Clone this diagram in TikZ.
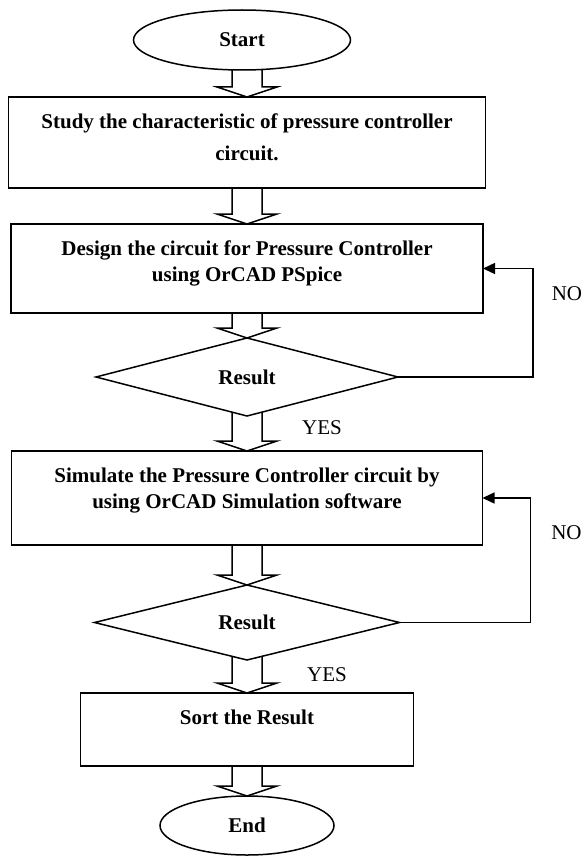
\documentclass[tikz,border=0pt]{standalone}
\usepackage{fontspec}
\setmainfont{Liberation Serif}
\usetikzlibrary{positioning, calc, shapes.geometric, arrows.meta}
\newcommand{\chartfont}{\fontsize{21}{26}\selectfont}
% hollow block arrow from the bottom of #2 to the top of #3
\newcommand{\flowto}[3][0pt]{%
  \draw[hollow] let \p1=(#2.south), \p2=(#3.north) in
    (\x2-15pt,\y1+#1) -- (\x2-15pt,\y2+10pt) -- (\x2-30pt,\y2+10pt) -- (\p2)
    -- (\x2+30pt,\y2+10pt) -- (\x2+15pt,\y2+10pt) -- (\x2+15pt,\y1+#1);}
\tikzset{
  terminal/.style={draw, ellipse, minimum width=217pt, minimum height=60pt,
    inner sep=0pt, outer sep=0pt, font=\chartfont\bfseries},
  process/.style={draw, rectangle, minimum width=472pt, minimum height=89pt,
    inner sep=0pt, outer sep=0pt},
  decision/.style={draw, diamond, minimum width=302pt, minimum height=78pt,
    inner sep=0pt, outer sep=0pt, font=\chartfont\bfseries},
  boxtext/.style={align=center, inner sep=0pt, font=\chartfont\bfseries},
  answer/.style={inner sep=0pt, font=\chartfont},
  hollow/.style={line join=miter},
  loopline/.style={-{Triangle[length=12pt,width=11pt]}},
}
\begin{document}
\begin{tikzpicture}[x=1pt, y=-1pt, line width=1.5pt]
  \useasboundingbox (0,0) rectangle (587,856);

  \node[terminal] (start) at (242,40) {Start};
  \node[process, minimum width=477pt, minimum height=91pt, below=27pt of start, xshift=5pt] (study) {};
  \node[boxtext, below=16pt of study.north] (studytext)
    {Study the characteristic of pressure controller\\[6pt]circuit.};
  \node[process, below=36pt of study] (design) {};
  \node[boxtext, below=16pt of design.north] (designtext)
    {Design the circuit for Pressure Controller\\using OrCAD PSpice};
  \node[decision, below=25pt of design] (check1) {Result};
  \node[process, minimum width=471pt, minimum height=94pt, below=35pt of check1] (simulate) {};
  \node[boxtext, below=16pt of simulate.north] (simulatetext)
    {Simulate the Pressure Controller circuit by\\using OrCAD Simulation software};
  \node[decision, minimum width=305pt, minimum height=75pt, below=40pt of simulate] (check2) {Result};
  \node[process, minimum width=333pt, minimum height=73pt, below=33pt of check2] (sort) {};
  \node[boxtext, below=16pt of sort.north] (sorttext) {Sort the Result};
  \node[terminal, minimum width=174pt, minimum height=59pt, below=30pt of sort] (finish) {End};

  \flowto{start}{study}
  \flowto{study}{design}
  \flowto{design}{check1}
  \flowto[4pt]{check1}{simulate}
  \flowto{simulate}{check2}
  \flowto[4pt]{check2}{sort}
  \flowto{sort}{finish}

  % back loops
  \draw[loopline] (check1.east) -- ++(135,0) |- (design.east);
  \draw[loopline] (check2.east) -- ++(131,0) |- (simulate.east);

  \node[answer, anchor=west] (no1) at ($(check1.east)+(153,-83)$) {NO};
  \node[answer, anchor=west] (no2) at ($(check2.east)+(151,-90)$) {NO};
  \node[answer] (yes1) at ($(check1.south)+(75,12)$) {YES};
  \node[answer] (yes2) at ($(check2.south)+(80,15)$) {YES};
\end{tikzpicture}
\end{document}
